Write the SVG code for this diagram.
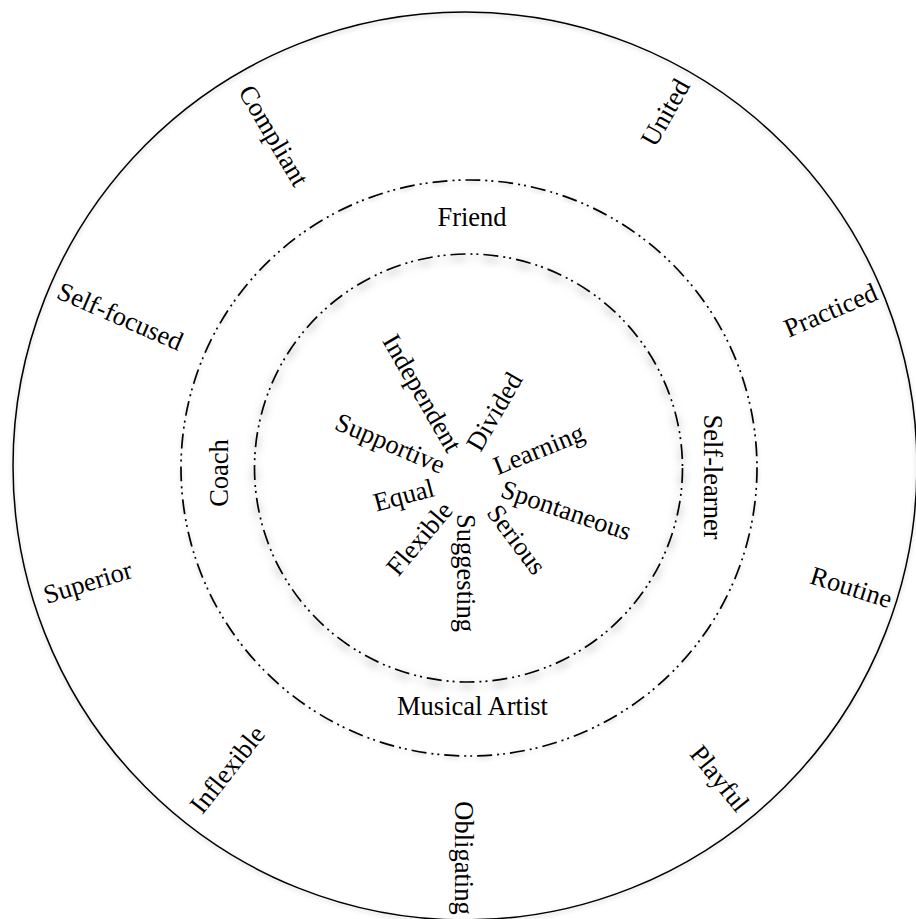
<svg xmlns="http://www.w3.org/2000/svg" width="916" height="919" viewBox="0 0 916 919">
<style>
.lbl{font-family:"Liberation Serif","Times New Roman",serif;font-size:26.5px;fill:#000;text-anchor:middle}
.ring{fill:none;stroke:#000;stroke-width:1.5}
.dd{stroke-width:1.7;stroke-dasharray:15 5 2 4 2 5}
</style>
<defs>
<filter id="sh" x="-10%" y="-10%" width="120%" height="120%">
<feDropShadow dx="0" dy="4" stdDeviation="4" flood-color="#000" flood-opacity="0.55"/>
</filter>
<filter id="sh2" x="-10%" y="-10%" width="120%" height="120%">
<feDropShadow dx="0" dy="2" stdDeviation="2" flood-color="#000" flood-opacity="0.2"/>
</filter>
</defs>
<rect width="916" height="919" fill="#fff"/>
<g id="rings">
<ellipse id="outer-ring" class="ring" cx="465" cy="466" rx="452" ry="454" filter="url(#sh2)"/>
<circle id="middle-ring" class="ring dd" cx="469" cy="468" r="288" filter="url(#sh2)"/>
<circle id="inner-ring" class="ring dd" cx="468.5" cy="468" r="214" filter="url(#sh)"/>
</g>
<g id="connectors"/>
<g id="outer-labels">
<g id="n-compliant" transform="translate(273,136) rotate(59.6)"><text class="lbl" y="8">Compliant</text></g>
<g id="n-united" transform="translate(666,113) rotate(-60.6)"><text class="lbl" y="8">United</text></g>
<g id="n-selffocused" transform="translate(120,317) rotate(23.4)"><text class="lbl" y="8">Self-focused</text></g>
<g id="n-superior" transform="translate(88,583) rotate(-17)"><text class="lbl" y="8">Superior</text></g>
<g id="n-inflexible" transform="translate(228,770) rotate(-51.7)"><text class="lbl" y="8">Inflexible</text></g>
<g id="n-obligating" transform="translate(463,858) rotate(90)"><text class="lbl" y="8">Obligating</text></g>
<g id="n-playful" transform="translate(719,779) rotate(51)"><text class="lbl" y="8">Playful</text></g>
<g id="n-routine" transform="translate(851,588) rotate(17.5)"><text class="lbl" y="8">Routine</text></g>
<g id="n-practiced" transform="translate(831,311) rotate(-23.2)"><text class="lbl" y="8">Practiced</text></g>
</g>
<g id="middle-labels">
<g id="n-friend"><text class="lbl" x="472" y="226">Friend</text></g>
<g id="n-coach" transform="translate(220,473) rotate(-90)"><text class="lbl" y="8">Coach</text></g>
<g id="n-selflearner" transform="translate(712,477) rotate(90)"><text class="lbl" y="8">Self-learner</text></g>
<g id="n-musicalartist"><text class="lbl" x="472.5" y="715">Musical Artist</text></g>
</g>
<g id="inner-labels">
<g id="n-independent" transform="translate(421.5,393.5) rotate(60)"><text class="lbl" y="8">Independent</text></g>
<g id="n-divided" transform="translate(495,412) rotate(-60)"><text class="lbl" y="8">Divided</text></g>
<g id="n-supportive" transform="translate(390,444) rotate(23)"><text class="lbl" y="8">Supportive</text></g>
<g id="n-learning" transform="translate(539,450) rotate(-22)"><text class="lbl" y="8">Learning</text></g>
<g id="n-equal" transform="translate(404,496) rotate(-15)"><text class="lbl" y="8">Equal</text></g>
<g id="n-spontaneous" transform="translate(566,511) rotate(19)"><text class="lbl" y="8">Spontaneous</text></g>
<g id="n-flexible" transform="translate(420,539) rotate(-50)"><text class="lbl" y="8">Flexible</text></g>
<g id="n-suggesting" transform="translate(465,573) rotate(90)"><text class="lbl" y="8">Suggesting</text></g>
<g id="n-serious" transform="translate(516,540) rotate(53)"><text class="lbl" y="8">Serious</text></g>
</g>
</svg>
